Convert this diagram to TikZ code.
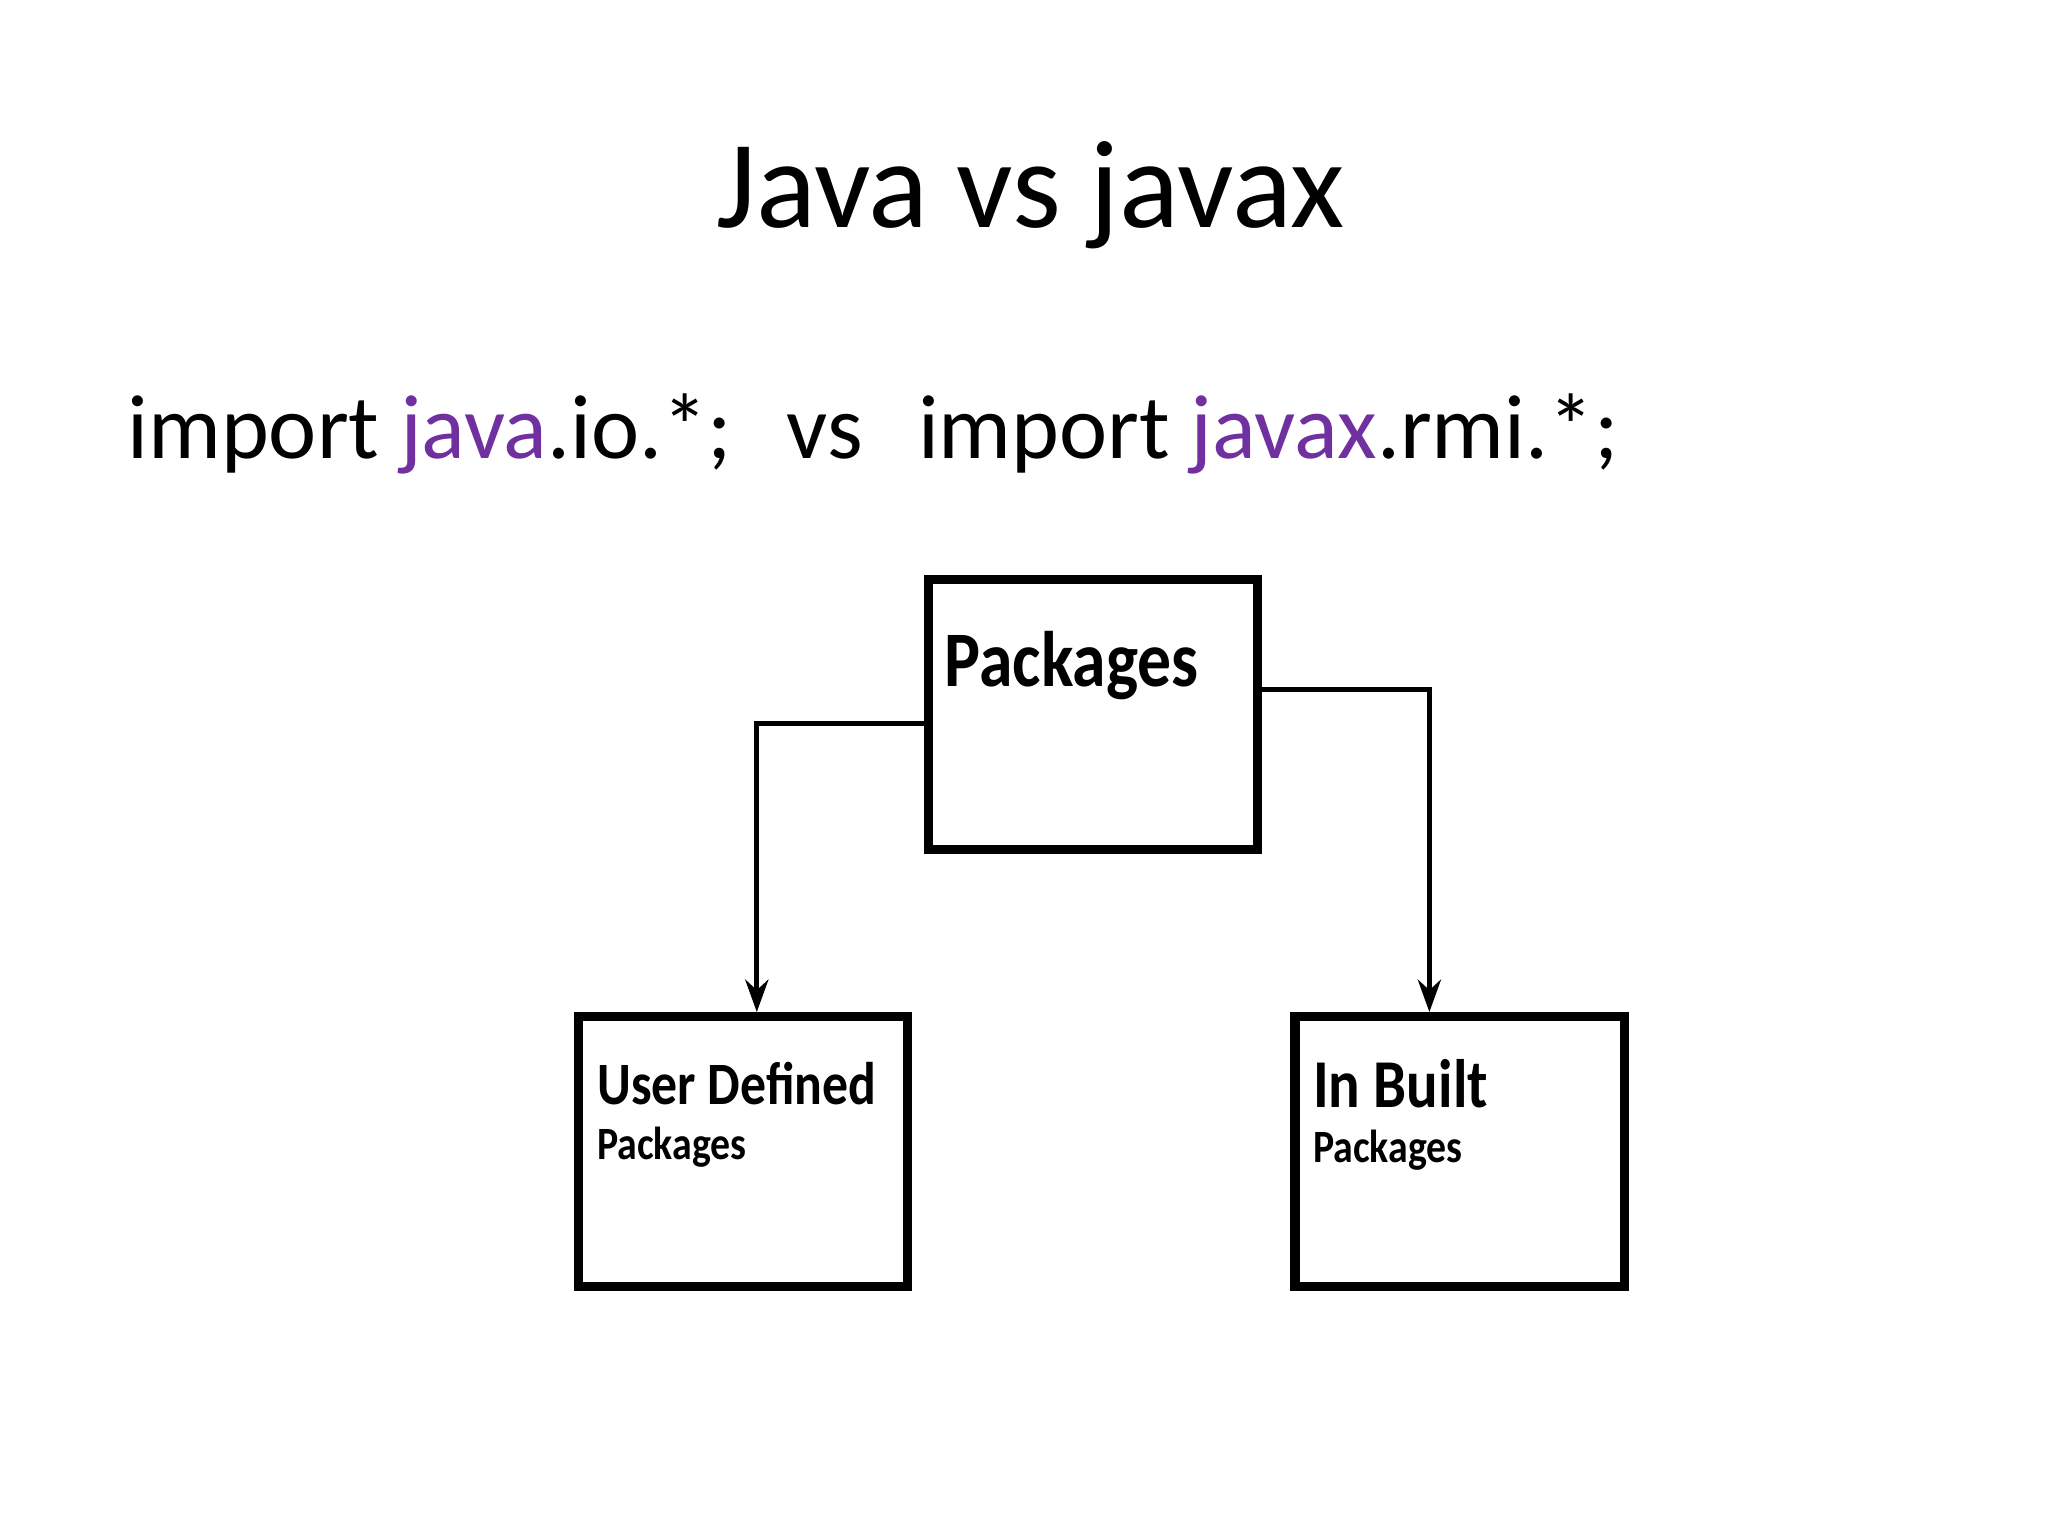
\documentclass[tikz,border=0pt]{standalone}
\usepackage{fontspec}
\setmainfont{Carlito}
\usetikzlibrary{positioning,arrows.meta}
\definecolor{javapurple}{RGB}{112,48,160}
\newfontfamily\narrowfont[FakeStretch=0.86]{Carlito}
\tikzset{
every picture/.style={
line width=1pt
}}
\begin{document}
\begin{tikzpicture}[x=0.01cm,y=-0.01cm,
box/.style = {rectangle, draw=black, line width=2pt, minimum width=2.5cm, minimum height=2.05cm},
label/.style = {anchor=north west, align=left, inner sep=0pt, font=\narrowfont\bfseries},
link/.style = {line width=1.1pt, -{Stealth[length=7pt,width=5pt]}}]

\useasboundingbox (0,0) rectangle (1556,1167);

\node (title) at (783,148) {\fontsize{27}{32}\selectfont Java vs javax};
\node [anchor=base west, inner sep=0pt] (imports) at (95,348) {\fontsize{19.7}{24}\selectfont import \textcolor{javapurple}{java}.io.*;\hspace{0.6em}vs\hspace{0.6em}import \textcolor{javapurple}{javax}.rmi.*;};

\node [box] (pkg) at (830.5,543) {};
\node [box] (user) at (564.5,875) {};
\node [box] (built) at (1109,875) {};

\node [label] (pkgtext) at (716,478) {\fontsize{17}{24}\selectfont Packages};
\node [label] (usertext) at (452,805) {\fontsize{13}{24}\selectfont User Defined\\Packages};
\node [label] (builttext) at (996,803) {\fontsize{14.8}{25}\selectfont In Built\\Packages};

% connectors
\draw [link] (pkg.west |- 0,550) -| (user.north -| 575,0);
\draw [link] (pkg.east |- 0,524) -| (built.north -| 1086,0);

\end{tikzpicture}
\end{document}
